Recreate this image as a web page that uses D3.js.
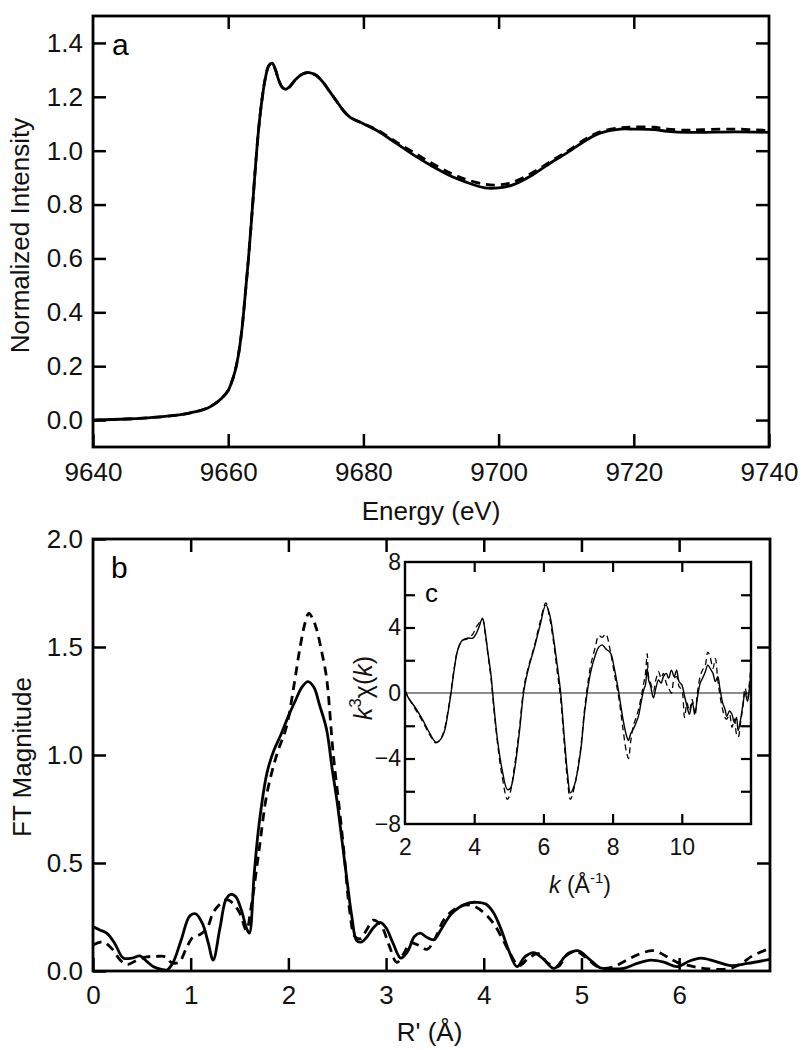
<!DOCTYPE html>
<html><head><meta charset="utf-8">
<script src="https://cdn.jsdelivr.net/npm/d3@7"></script>
<style>
body{margin:0;background:#fff;}
svg{display:block;font-family:"Liberation Sans",Arial,sans-serif;}
</style></head><body>
<svg id="c" width="808" height="1050"></svg>
<script>
// ---------- Panel a: XANES ----------
const energy = [9640,9645,9650,9653,9655,9657,9658,9659,9660,9660.5,9661,9661.5,9662,9662.5,9663,9663.5,9664,9664.5,9665,9665.5,9666,9666.5,9667,9667.5,9668,9668.5,9669,9670,9671,9672,9673,9674,9675,9676,9677,9678,9680,9682,9685,9688,9690,9693,9695,9698,9700,9702,9705,9708,9710,9713,9715,9718,9720,9723,9725,9728,9730,9735,9740];
const xanesSolid = [0.0,0.004,0.012,0.02,0.03,0.045,0.06,0.08,0.11,0.14,0.18,0.24,0.33,0.46,0.6,0.76,0.93,1.08,1.19,1.27,1.315,1.325,1.30,1.26,1.235,1.228,1.235,1.265,1.285,1.29,1.28,1.255,1.22,1.185,1.15,1.125,1.1,1.075,1.025,0.975,0.945,0.905,0.885,0.862,0.862,0.872,0.91,0.96,0.99,1.04,1.065,1.08,1.08,1.078,1.072,1.068,1.068,1.07,1.068];
const xanesDashed = [0.0,0.004,0.012,0.02,0.03,0.045,0.06,0.08,0.11,0.14,0.18,0.24,0.33,0.46,0.6,0.76,0.93,1.08,1.19,1.27,1.315,1.325,1.30,1.26,1.235,1.228,1.235,1.265,1.285,1.29,1.28,1.255,1.22,1.185,1.15,1.125,1.1,1.078,1.03,0.985,0.955,0.915,0.895,0.875,0.873,0.882,0.918,0.965,0.995,1.045,1.07,1.085,1.088,1.087,1.08,1.076,1.078,1.08,1.075];
const aXTicks = [9640,9660,9680,9700,9720,9740];
const aYTicks = [0.0,0.2,0.4,0.6,0.8,1.0,1.2,1.4];

// ---------- Panel b: FT ----------
const rSolid = [0,0.07,0.14,0.22,0.31,0.4,0.48,0.55,0.62,0.7,0.76,0.82,0.9,0.99,1.05,1.12,1.18,1.23,1.3,1.36,1.41,1.46,1.52,1.57,1.6,1.65,1.7,1.78,1.85,1.92,2.0,2.07,2.14,2.2,2.26,2.32,2.39,2.45,2.5,2.55,2.6,2.65,2.7,2.75,2.8,2.87,2.94,3.0,3.07,3.15,3.22,3.29,3.35,3.42,3.49,3.56,3.66,3.75,3.85,3.93,4.02,4.1,4.18,4.26,4.34,4.42,4.51,4.6,4.72,4.84,4.96,5.08,5.19,5.3,5.43,5.57,5.71,5.85,5.98,6.1,6.22,6.37,6.53,6.7,6.93];
const ftSolid = [0.205,0.19,0.175,0.13,0.06,0.06,0.07,0.045,0.02,0.008,0.005,0.04,0.14,0.255,0.265,0.22,0.13,0.05,0.2,0.33,0.355,0.345,0.28,0.2,0.175,0.45,0.68,0.915,1.02,1.09,1.18,1.25,1.315,1.34,1.315,1.23,1.12,0.93,0.78,0.6,0.42,0.25,0.14,0.135,0.155,0.2,0.225,0.2,0.13,0.06,0.09,0.16,0.175,0.155,0.145,0.19,0.26,0.295,0.315,0.318,0.31,0.27,0.19,0.09,0.02,0.065,0.085,0.06,0.012,0.07,0.094,0.055,0.015,0.01,0.012,0.035,0.05,0.04,0.02,0.045,0.06,0.045,0.025,0.035,0.054];
const rDashed = [0,0.1,0.2,0.28,0.35,0.45,0.55,0.65,0.75,0.8,0.88,0.95,1.02,1.1,1.17,1.23,1.3,1.37,1.44,1.5,1.57,1.62,1.7,1.78,1.88,1.98,2.06,2.12,2.17,2.21,2.25,2.29,2.34,2.39,2.46,2.52,2.57,2.63,2.68,2.74,2.8,2.87,2.95,3.03,3.11,3.18,3.25,3.33,3.42,3.5,3.59,3.7,3.8,3.9,4.0,4.1,4.19,4.27,4.36,4.46,4.56,4.66,4.76,4.86,4.95,5.05,5.19,5.33,5.46,5.6,5.74,5.86,5.98,6.15,6.3,6.5,6.62,6.75,6.93];
const ftDashed = [0.12,0.135,0.1,0.05,0.03,0.05,0.065,0.068,0.065,0.04,0.04,0.1,0.155,0.17,0.2,0.27,0.31,0.33,0.31,0.27,0.19,0.3,0.56,0.82,1.0,1.13,1.33,1.5,1.61,1.656,1.63,1.58,1.48,1.36,1.0,0.76,0.545,0.27,0.16,0.15,0.19,0.235,0.21,0.12,0.04,0.08,0.13,0.12,0.1,0.15,0.236,0.285,0.305,0.3,0.27,0.22,0.15,0.08,0.025,0.06,0.08,0.035,0.02,0.08,0.09,0.06,0.015,0.02,0.05,0.08,0.094,0.07,0.04,0.02,0.01,0.01,0.03,0.07,0.105];
const bXTicks = [0,1,2,3,4,5,6];
const bYTicks = [0.0,0.5,1.0,1.5,2.0];

// ---------- Inset c: EXAFS ----------
const kVals = [2.0,2.1,2.3,2.5,2.7,2.89,3.0,3.13,3.25,3.33,3.42,3.52,3.65,3.8,3.96,4.05,4.15,4.24,4.32,4.4,4.48,4.57,4.67,4.8,4.96,5.05,5.15,5.3,5.44,5.58,5.73,5.9,6.07,6.18,6.3,6.4,6.5,6.6,6.7,6.78,6.9,7.07,7.2,7.36,7.5,7.6,7.7,7.8,7.94,8.05,8.18,8.3,8.4,8.46,8.52,8.6,8.68,8.75,8.82,8.9,8.95,9.0,9.04,9.1,9.18,9.25,9.33,9.4,9.47,9.55,9.62,9.7,9.78,9.85,9.92,10.0,10.08,10.15,10.22,10.3,10.38,10.45,10.53,10.6,10.68,10.75,10.82,10.9,10.97,11.04,11.1,11.18,11.25,11.3,11.38,11.45,11.52,11.58,11.63,11.7,11.76,11.83,11.9,11.96,12.0];
const chiSolid = [0.1,-0.3,-0.9,-1.6,-2.4,-3.0,-2.9,-2.4,-1.1,0.0,1.4,2.6,3.2,3.35,3.35,3.6,4.1,4.57,3.7,2.4,1.2,-0.8,-2.8,-4.6,-5.9,-5.8,-4.9,-2.5,0.2,1.6,2.7,4.1,5.38,4.8,3.25,1.7,0.0,-2.6,-5.0,-6.1,-5.6,-3.65,-1.0,1.22,2.3,2.8,2.94,2.7,2.44,1.5,0.0,-1.6,-2.6,-2.9,-2.5,-2.2,-1.8,-1.4,-0.6,0.2,0.5,1.5,0.8,0.4,-0.3,0.3,0.8,0.6,1.0,1.2,0.9,1.4,1.0,1.4,0.7,0.5,-0.2,-0.8,-1.3,-0.6,-1.2,-0.3,0.6,0.9,1.3,1.7,1.5,1.2,0.7,1.0,0.3,-0.6,-1.0,-1.42,-1.1,-1.3,-1.8,-1.5,-2.3,-1.6,-0.8,0.0,-0.5,0.4,1.2];
const chiDashed = [0.2,-0.3,-1.0,-1.7,-2.5,-3.05,-2.9,-2.3,-1.0,0.1,1.5,2.6,3.2,3.3,3.6,4.0,4.3,4.5,3.6,2.3,1.0,-1.0,-3.0,-5.0,-6.5,-6.0,-4.7,-2.3,0.4,1.7,2.8,4.3,5.5,4.6,3.0,1.3,-0.4,-3.0,-5.4,-6.5,-5.7,-3.5,-0.8,1.6,2.8,3.5,3.4,3.6,2.5,1.2,-0.3,-2.2,-3.6,-4.0,-3.0,-2.0,-1.5,-1.0,-0.3,0.6,1.2,2.4,1.0,0.6,0.1,0.8,1.3,0.9,1.2,0.6,0.3,0.0,0.9,1.0,0.4,0.2,-1.5,-0.6,-1.1,-0.4,-1.4,0.0,1.0,1.4,1.7,2.5,2.2,1.5,2.1,0.8,-0.1,-1.0,-1.5,-1.6,-1.3,-2.1,-1.6,-2.5,-2.7,-1.8,-0.9,0.3,-0.3,0.8,1.6];
const cXTicks = [2,4,6,8,10];
const cYTicksLabeled = [-8,-4,0,4,8];
const cYTicksMinor = [-6,-2,2,6];

const svg = d3.select("#c");
const FONT = 26;

function frame(g, x0, y0, x1, y1, w) {
  g.append("rect").attr("x", x0).attr("y", y0).attr("width", x1 - x0).attr("height", y1 - y0)
    .attr("fill", "none").attr("stroke", "#000").attr("stroke-width", w);
}
function styleAxis(sel, fs, sw) {
  sel.select(".domain").remove();
  sel.selectAll("line").attr("stroke", "#000").attr("stroke-width", sw);
  sel.selectAll("text").attr("font-size", fs).attr("fill", "#111")
     .attr("font-family", '"Liberation Sans",Arial,sans-serif');
}

// ===== Panel a =====
{
  const L = 93, R = 769, T = 16, B = 447;
  const x = d3.scaleLinear().domain([9640, 9740]).range([L, R]);
  const y = d3.scaleLinear().domain([-0.1, 1.5]).range([B, T]);
  const g = svg.append("g");
  const line = d3.line().x(d => x(d[0])).y(d => y(d[1])).curve(d3.curveCatmullRom.alpha(0.5));
  g.append("path").datum(energy.map((e, i) => [e, xanesDashed[i]]))
    .attr("d", line).attr("fill", "none").attr("stroke", "#000").attr("stroke-width", 2.8).attr("stroke-dasharray", "9,6");
  g.append("path").datum(energy.map((e, i) => [e, xanesSolid[i]]))
    .attr("d", line).attr("fill", "none").attr("stroke", "#000").attr("stroke-width", 2.8);

  const ax = g.append("g").attr("transform", `translate(0,${B})`)
    .call(d3.axisBottom(x).tickValues(aXTicks).tickFormat(d3.format("d")).tickSizeInner(-13).tickSizeOuter(0).tickPadding(16));
  styleAxis(ax, FONT, 2.5);
  const axT = g.append("g").attr("transform", `translate(0,${T})`)
    .call(d3.axisTop(x).tickValues(aXTicks.slice(1, -1)).tickFormat("").tickSizeInner(-13).tickSizeOuter(0));
  styleAxis(axT, FONT, 2.5);
  const ay = g.append("g").attr("transform", `translate(${L},0)`)
    .call(d3.axisLeft(y).tickValues(aYTicks).tickFormat(d3.format(".1f")).tickSizeInner(-13).tickSizeOuter(0).tickPadding(10));
  styleAxis(ay, FONT, 2.5);
  const ayR = g.append("g").attr("transform", `translate(${R},0)`)
    .call(d3.axisRight(y).tickValues(aYTicks).tickFormat("").tickSizeInner(-13).tickSizeOuter(0));
  styleAxis(ayR, FONT, 2.5);
  frame(g, L, T, R, B, 2.8);

  g.append("text").attr("x", 112).attr("y", 55).attr("font-size", 30).text("a");
  g.append("text").attr("x", (L + R) / 2).attr("y", 520).attr("text-anchor", "middle").attr("font-size", FONT).attr("fill", "#111").text("Energy (eV)");
  g.append("text").attr("transform", `translate(29,${(T + B) / 2 + 4}) rotate(-90)`).attr("text-anchor", "middle")
    .attr("font-size", FONT).attr("fill", "#111").text("Normalized Intensity");
}

// ===== Panel b =====
{
  const L = 93, R = 770, T = 539, B = 971;
  const x = d3.scaleLinear().domain([0, 6.93]).range([L, R]);
  const y = d3.scaleLinear().domain([0, 2.0]).range([B, T]);
  const g = svg.append("g");
  const line = d3.line().x(d => x(d[0])).y(d => y(d[1])).curve(d3.curveCatmullRom.alpha(0.5));
  g.append("path").datum(rDashed.map((r, i) => [r, ftDashed[i]]))
    .attr("d", line).attr("fill", "none").attr("stroke", "#000").attr("stroke-width", 2.8).attr("stroke-dasharray", "9,6");
  g.append("path").datum(rSolid.map((r, i) => [r, ftSolid[i]]))
    .attr("d", line).attr("fill", "none").attr("stroke", "#000").attr("stroke-width", 2.8);

  const ax = g.append("g").attr("transform", `translate(0,${B})`)
    .call(d3.axisBottom(x).tickValues(bXTicks).tickFormat(d3.format("d")).tickSizeInner(-13).tickSizeOuter(0).tickPadding(15));
  styleAxis(ax, FONT, 2.5);
  const axT = g.append("g").attr("transform", `translate(0,${T})`)
    .call(d3.axisTop(x).tickValues(bXTicks.slice(1)).tickFormat("").tickSizeInner(-13).tickSizeOuter(0));
  styleAxis(axT, FONT, 2.5);
  const ay = g.append("g").attr("transform", `translate(${L},0)`)
    .call(d3.axisLeft(y).tickValues(bYTicks).tickFormat(d3.format(".1f")).tickSizeInner(-13).tickSizeOuter(0).tickPadding(10));
  styleAxis(ay, FONT, 2.5);
  const ayR = g.append("g").attr("transform", `translate(${R},0)`)
    .call(d3.axisRight(y).tickValues(bYTicks.slice(1, -1)).tickFormat("").tickSizeInner(-13).tickSizeOuter(0));
  styleAxis(ayR, FONT, 2.5);
  frame(g, L, T, R, B, 2.8);

  g.append("text").attr("x", 111).attr("y", 578).attr("font-size", 30).text("b");
  const xl = g.append("text").attr("x", (L + R) / 2 - 2).attr("y", 1041).attr("text-anchor", "middle").attr("font-size", FONT).attr("fill", "#111");
  xl.text("R' (Å)");
  g.append("text").attr("transform", `translate(31,${(T + B) / 2 + 2}) rotate(-90)`).attr("text-anchor", "middle")
    .attr("font-size", FONT).attr("fill", "#111").text("FT Magnitude");
}

// ===== Inset c =====
{
  const L = 405, R = 751, T = 562, B = 824;
  const x = d3.scaleLinear().domain([2, 12]).range([L, R]);
  const y = d3.scaleLinear().domain([-8, 8]).range([B, T]);
  const g = svg.append("g");
  g.append("rect").attr("x", L).attr("y", T).attr("width", R - L).attr("height", B - T).attr("fill", "#fff");
  g.append("line").attr("x1", L).attr("x2", R).attr("y1", y(0)).attr("y2", y(0)).attr("stroke", "#666").attr("stroke-width", 1.6);
  const line = d3.line().x(d => x(d[0])).y(d => y(d[1])).curve(d3.curveCatmullRom.alpha(0.5));
  g.append("path").datum(kVals.map((k, i) => [k, chiDashed[i]]))
    .attr("d", line).attr("fill", "none").attr("stroke", "#000").attr("stroke-width", 1.3).attr("stroke-dasharray", "6,4");
  g.append("path").datum(kVals.map((k, i) => [k, chiSolid[i]]))
    .attr("d", line).attr("fill", "none").attr("stroke", "#000").attr("stroke-width", 1.4);

  const FS = 23;
  const ax = g.append("g").attr("transform", `translate(0,${B})`)
    .call(d3.axisBottom(x).tickValues(cXTicks).tickFormat(d3.format("d")).tickSizeInner(-10).tickSizeOuter(0).tickPadding(15));
  styleAxis(ax, FS, 2.2);
  ax.selectAll(".tick").filter(d => d === 2).select("line").remove();
  const axT = g.append("g").attr("transform", `translate(0,${T})`)
    .call(d3.axisTop(x).tickValues(cXTicks.slice(1)).tickFormat("").tickSizeInner(-10).tickSizeOuter(0));
  styleAxis(axT, FS, 2.2);
  const ay = g.append("g").attr("transform", `translate(${L},0)`)
    .call(d3.axisLeft(y).tickValues(cYTicksLabeled).tickFormat(d3.format("d")).tickSizeInner(-10).tickSizeOuter(0).tickPadding(4));
  styleAxis(ay, FS, 2.2);
  ay.selectAll(".tick").filter(d => d === 0 || Math.abs(d) === 8).select("line").remove();
  const ayM = g.append("g").attr("transform", `translate(${L},0)`)
    .call(d3.axisLeft(y).tickValues(cYTicksMinor).tickFormat("").tickSizeInner(-10).tickSizeOuter(0));
  styleAxis(ayM, FS, 2.2);
  const ayR = g.append("g").attr("transform", `translate(${R},0)`)
    .call(d3.axisRight(y).tickValues(cYTicksMinor.concat([-4, 4])).tickFormat("").tickSizeInner(-10).tickSizeOuter(0));
  styleAxis(ayR, FS, 2.2);
  frame(g, L, T, R, B, 2.4);

  g.append("text").attr("x", 425).attr("y", 602).attr("font-size", 26).text("c");
  const kl = g.append("text").attr("x", 580).attr("y", 893).attr("text-anchor", "middle").attr("font-size", FS).attr("fill", "#111");
  kl.append("tspan").attr("font-style", "italic").text("k");
  kl.append("tspan").text(" (Å");
  kl.append("tspan").attr("font-size", 15).attr("dy", -10).text("-1");
  kl.append("tspan").attr("dy", 10).text(")");
  const yl = g.append("text").attr("transform", `translate(372,688) rotate(-90)`).attr("text-anchor", "middle").attr("font-size", 25).attr("fill", "#111");
  yl.append("tspan").attr("font-style", "italic").text("k");
  yl.append("tspan").attr("font-size", 17).attr("dy", -11).text("3");
  yl.append("tspan").attr("dy", 11).text("χ(");
  yl.append("tspan").attr("font-style", "italic").text("k");
  yl.append("tspan").text(")");
}
</script>
</body></html>
